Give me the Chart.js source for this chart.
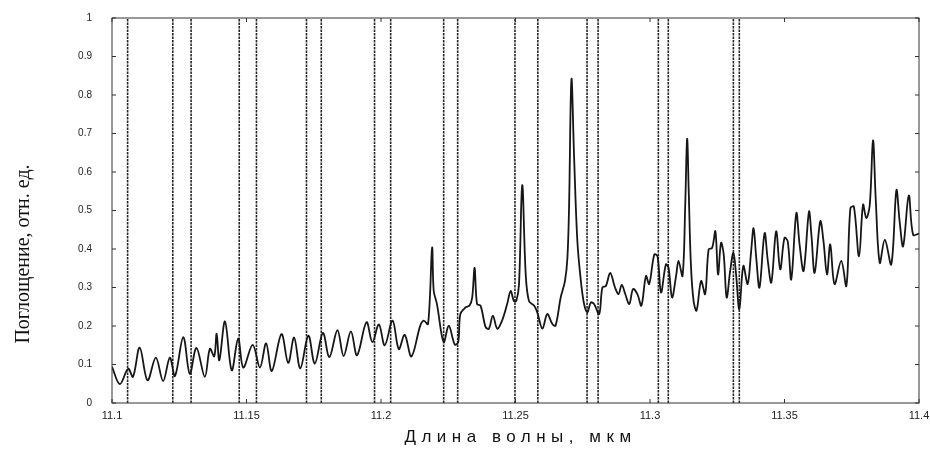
<!DOCTYPE html>
<html>
<head>
<meta charset="utf-8">
<script src="https://cdn.jsdelivr.net/npm/chart.js@4.4.1/dist/chart.umd.min.js"></script>
<style>
  html, body { margin: 0; padding: 0; background: #fff; }
  #wrap { width: 930px; height: 454px; }
</style>
</head>
<body>
<div id="wrap"><canvas id="spectrum"></canvas></div>
<script>
// wavelength, um
const wavelength = [
  11.1000,11.1029,11.1060,11.1078,11.1103,11.1132,11.1163,11.1190,11.1215,11.1234,
  11.1265,11.1289,11.1314,11.1345,11.1364,11.1380,11.1389,11.1399,11.1420,11.1445,
  11.1469,11.1488,11.1523,11.1550,11.1573,11.1594,11.1630,11.1655,11.1677,11.1700,
  11.1730,11.1754,11.1784,11.1808,11.1838,11.1861,11.1888,11.1911,11.1946,11.1968,
  11.1992,11.2014,11.2043,11.2066,11.2088,11.2113,11.2146,11.2159,11.2175,11.2190,
  11.2196,11.2208,11.2233,11.2252,11.2274,11.2287,11.2295,11.2314,11.2329,11.2339,
  11.2348,11.2357,11.2370,11.2389,11.2401,11.2416,11.2432,11.2450,11.2469,11.2482,
  11.2494,11.2503,11.2513,11.2525,11.2538,11.2550,11.2569,11.2581,11.2600,11.2618,
  11.2637,11.2649,11.2668,11.2684,11.2693,11.2699,11.2708,11.2718,11.2730,11.2743,
  11.2755,11.2767,11.2780,11.2792,11.2811,11.2823,11.2836,11.2852,11.2870,11.2883,
  11.2895,11.2908,11.2923,11.2937,11.2953,11.2968,11.2985,11.2997,11.3016,11.3028,
  11.3041,11.3059,11.3069,11.3082,11.3097,11.3106,11.3121,11.3131,11.3138,11.3144,
  11.3152,11.3162,11.3173,11.3190,11.3205,11.3218,11.3231,11.3243,11.3253,11.3264,
  11.3274,11.3285,11.3298,11.3310,11.3320,11.3332,11.3347,11.3363,11.3376,11.3385,
  11.3395,11.3407,11.3426,11.3438,11.3451,11.3469,11.3484,11.3500,11.3512,11.3525,
  11.3544,11.3556,11.3571,11.3591,11.3600,11.3612,11.3633,11.3645,11.3658,11.3670,
  11.3686,11.3711,11.3730,11.3745,11.3758,11.3777,11.3792,11.3804,11.3817,11.3829,
  11.3839,11.3854,11.3873,11.3897,11.3916,11.3928,11.3941,11.3962,11.3978,11.4000
];
// absorption, rel. units
const absorption = [
  0.094,0.049,0.089,0.068,0.144,0.059,0.118,0.057,0.118,0.070,
  0.171,0.076,0.143,0.068,0.141,0.121,0.180,0.111,0.212,0.085,
  0.167,0.092,0.151,0.092,0.155,0.083,0.179,0.104,0.170,0.090,
  0.175,0.102,0.182,0.119,0.189,0.122,0.186,0.124,0.210,0.158,
  0.204,0.150,0.214,0.140,0.177,0.121,0.201,0.214,0.205,0.403,
  0.291,0.257,0.158,0.201,0.152,0.158,0.231,0.248,0.253,0.274,
  0.351,0.257,0.253,0.197,0.193,0.227,0.193,0.214,0.257,0.291,
  0.265,0.265,0.308,0.566,0.334,0.265,0.253,0.235,0.193,0.231,
  0.205,0.201,0.274,0.317,0.377,0.506,0.841,0.635,0.420,0.317,
  0.257,0.235,0.261,0.257,0.231,0.300,0.304,0.338,0.300,0.283,
  0.307,0.283,0.257,0.296,0.283,0.253,0.330,0.309,0.386,0.381,
  0.287,0.360,0.351,0.274,0.330,0.369,0.330,0.515,0.686,0.549,
  0.360,0.265,0.240,0.317,0.283,0.399,0.403,0.446,0.334,0.416,
  0.386,0.274,0.343,0.390,0.334,0.244,0.356,0.309,0.394,0.454,
  0.377,0.300,0.441,0.369,0.313,0.446,0.347,0.429,0.420,0.321,
  0.493,0.412,0.343,0.497,0.437,0.338,0.472,0.420,0.334,0.412,
  0.309,0.369,0.304,0.506,0.510,0.381,0.515,0.480,0.515,0.682,
  0.532,0.364,0.424,0.360,0.553,0.472,0.407,0.539,0.437,0.440
];
// laser line positions (vertical dashed lines)
const laserLines = [
  11.1058, 11.1226, 11.1294, 11.1473, 11.1537, 11.1723, 11.1778, 11.1976, 11.2036,
  11.2233, 11.2285, 11.2498, 11.2583, 11.2766, 11.2807, 11.3031, 11.3068, 11.3310, 11.3332
];
const xTicks = [11.1, 11.15, 11.2, 11.25, 11.3, 11.35, 11.4];
const yTicks = [0, 0.1, 0.2, 0.3, 0.4, 0.5, 0.6, 0.7, 0.8, 0.9, 1];
const xTitle = 'Длина волны, мкм';
const yTitle = 'Поглощение, отн. ед.';

const datasets = [{
  data: wavelength.map((w, i) => ({ x: w, y: absorption[i] })),
  borderColor: '#161616',
  borderWidth: 1.8,
  pointRadius: 0,
  tension: 0.35,
  order: 0
}];
laserLines.forEach(v => {
  datasets.push({
    data: [{ x: v, y: 0 }, { x: v, y: 1 }],
    borderColor: '#262626',
    borderWidth: 1.6,
    borderDash: [2.5, 1],
    pointRadius: 0,
    order: 1
  });
});

// box round the plot with inward ticks, plus the axis titles
const frame = {
  id: 'frame',
  afterDraw(chart) {
    const { ctx, chartArea: a, scales: { x, y } } = chart;
    ctx.save();
    ctx.strokeStyle = '#333';
    ctx.lineWidth = 1;
    ctx.strokeRect(a.left, a.top, a.right - a.left, a.bottom - a.top);
    ctx.beginPath();
    x.ticks.forEach(t => {
      const px = x.getPixelForValue(t.value);
      ctx.moveTo(px, a.bottom); ctx.lineTo(px, a.bottom - 4);
      ctx.moveTo(px, a.top); ctx.lineTo(px, a.top + 4);
    });
    y.ticks.forEach(t => {
      const py = y.getPixelForValue(t.value);
      ctx.moveTo(a.left, py); ctx.lineTo(a.left + 4, py);
      ctx.moveTo(a.right, py); ctx.lineTo(a.right - 4, py);
    });
    ctx.stroke();

    ctx.fillStyle = '#111';
    ctx.textAlign = 'center';
    ctx.textBaseline = 'middle';
    ctx.font = '17px "Liberation Sans"';
    ctx.letterSpacing = '5.5px';
    ctx.fillText(xTitle, (a.left + a.right) / 2 + 5, 437);
    ctx.letterSpacing = '0px';
    ctx.translate(24, 254);
    ctx.rotate(-Math.PI / 2);
    ctx.font = '20px "Liberation Serif"';
    ctx.fillText(yTitle, 0, 0);
    ctx.restore();
  }
};

new Chart(document.getElementById('spectrum').getContext('2d'), {
  type: 'line',
  data: { datasets: datasets },
  plugins: [frame],
  options: {
    responsive: true,
    maintainAspectRatio: false,
    animation: false,
    layout: { padding: { left: 0, top: 9, right: 11, bottom: 0 } },
    plugins: { legend: { display: false }, tooltip: { enabled: false } },
    scales: {
      x: {
        type: 'linear',
        min: 11.1,
        max: 11.4,
        afterBuildTicks: s => { s.ticks = xTicks.map(v => ({ value: v })); },
        afterFit: s => { s.height = 51; },
        grid: { display: false },
        border: { display: false },
        ticks: {
          padding: -2,
          color: '#222',
          font: { family: 'Liberation Sans', size: 11 },
          callback: v => String(+v.toFixed(2))
        }
      },
      y: {
        min: 0,
        max: 1,
        afterBuildTicks: s => { s.ticks = yTicks.map(v => ({ value: v })); },
        afterFit: s => { s.width = 112; },
        grid: { display: false },
        border: { display: false },
        ticks: {
          padding: 12,
          color: '#222',
          font: { family: 'Liberation Sans', size: 10 },
          callback: v => String(+v.toFixed(1))
        }
      }
    }
  }
});
</script>
</body>
</html>
